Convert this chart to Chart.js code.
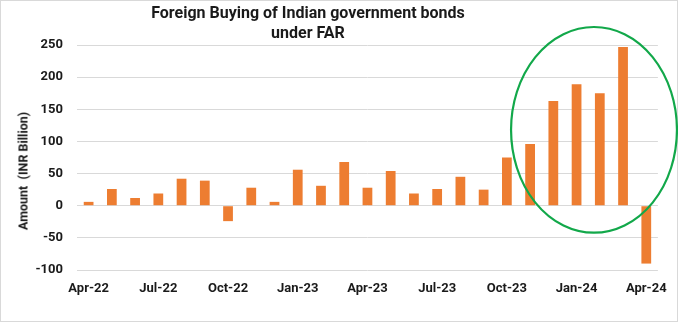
<!DOCTYPE html>
<html>
<head>
<meta charset="utf-8">
<script src="https://cdn.jsdelivr.net/npm/chart.js@4.4.1/dist/chart.umd.min.js"></script>
<style>
  html, body { margin: 0; padding: 0; background: #fff; }
  #wrap {
    position: relative; width: 678px; height: 322px;
    box-sizing: border-box; border: 1px solid #d9d9d9; background: #fff;
    font-family: Roboto, "Noto Sans", sans-serif; color: #1a1a1a;
  }
  #wrap canvas { position: absolute; left: -1px; top: -1px; }
  #title {
    position: absolute; left: 107px; top: 2px; width: 400px;
    text-align: center; font-weight: 700; font-size: 16px; line-height: 20px;
  }
  #ytitle {
    position: absolute; left: 22px; top: 170px; white-space: pre;
    transform: translate(-50%, -50%) rotate(-90deg);
    font-weight: 700; font-size: 12.5px;
  }
</style>
</head>
<body>
<div id="wrap">
  <canvas id="c" width="678" height="322"></canvas>
  <div id="title">Foreign Buying of Indian government bonds<br>under FAR</div>
  <div id="ytitle">Amount  (INR Billion)</div>
</div>
<script>
"use strict";

/* ── Datos mensuales (INR mil millones) ───────────────────────── */
const months = [
  "Apr-22", "May-22", "Jun-22", "Jul-22", "Aug-22", "Sep-22", "Oct-22", "Nov-22", "Dec-22",
  "Jan-23", "Feb-23", "Mar-23", "Apr-23", "May-23", "Jun-23", "Jul-23", "Aug-23", "Sep-23",
  "Oct-23", "Nov-23", "Dec-23", "Jan-24", "Feb-24", "Mar-24", "Apr-24"
];
const farBuying = [
  6, 26, 12, 19, 42, 39, -24, 28, 6,
  56, 31, 68, 28, 54, 19, 26, 45, 25,
  75, 96, 163, 189, 175, 247, -90
];
const yTicks = [-100, -50, 0, 50, 100, 150, 200, 250];

/* Zona resaltada: centro (índice, valor) y radios en unidades de datos */
const highlight = { cx: 21.75, cy: 118, rx: 3.57, ry: 160 };

const ORANGE = "#ED7D31";
const GREEN  = "#12A84A";
const TEXT   = "#1a1a1a";
const GRID   = "#d9d9d9";

/* ── Plugin: elipse verde sobre los últimos meses ─────────────── */
const ellipsePlugin = {
  id: "highlightEllipse",
  afterDatasetsDraw(chart) {
    const { ctx, scales } = chart;
    const x  = scales.x.getPixelForValue(highlight.cx);
    const y  = scales.y.getPixelForValue(highlight.cy);
    const rx = scales.x.getPixelForValue(highlight.cx + highlight.rx) - x;
    const ry = scales.y.getPixelForValue(highlight.cy - highlight.ry) - y;
    ctx.save();
    ctx.strokeStyle = GREEN;
    ctx.lineWidth = 2.2;
    ctx.beginPath();
    ctx.ellipse(x, y, rx, ry, 0, 0, Math.PI * 2);
    ctx.stroke();
    ctx.restore();
  }
};

new Chart(document.getElementById("c"), {
  type: "bar",
  plugins: [ellipsePlugin],
  data: {
    labels: months,
    datasets: [{
      data: farBuying,
      backgroundColor: ORANGE,
      borderWidth: 0,
      barPercentage: 0.42,
      categoryPercentage: 1,
    }]
  },
  options: {
    responsive: false,
    animation: false,
    layout: { padding: { top: 45, right: 20, bottom: 0, left: 0 } },
    plugins: {
      legend: { display: false },
      tooltip: { enabled: false },
    },
    scales: {
      x: {
        grid: { display: false, drawTicks: false },
        border: { display: false },
        ticks: {
          autoSkip: false, maxRotation: 0, padding: 11,
          color: TEXT, font: { family: "Roboto", weight: "bold", size: 13 },
          callback: (v, i) => i % 3 === 0 ? months[i] : "",
        },
        afterFit: s => { s.height = 52; },
      },
      y: {
        min: -100, max: 250,
        afterBuildTicks: s => { s.ticks = yTicks.map(v => ({ value: v })); },
        grid: { color: GRID, lineWidth: 1, drawTicks: false },
        border: { display: false },
        ticks: {
          padding: 14,
          color: TEXT, font: { family: "Roboto", weight: "bold", size: 13 },
        },
        afterFit: s => { s.width = 77; },
      }
    }
  }
});
</script>
</body>
</html>
